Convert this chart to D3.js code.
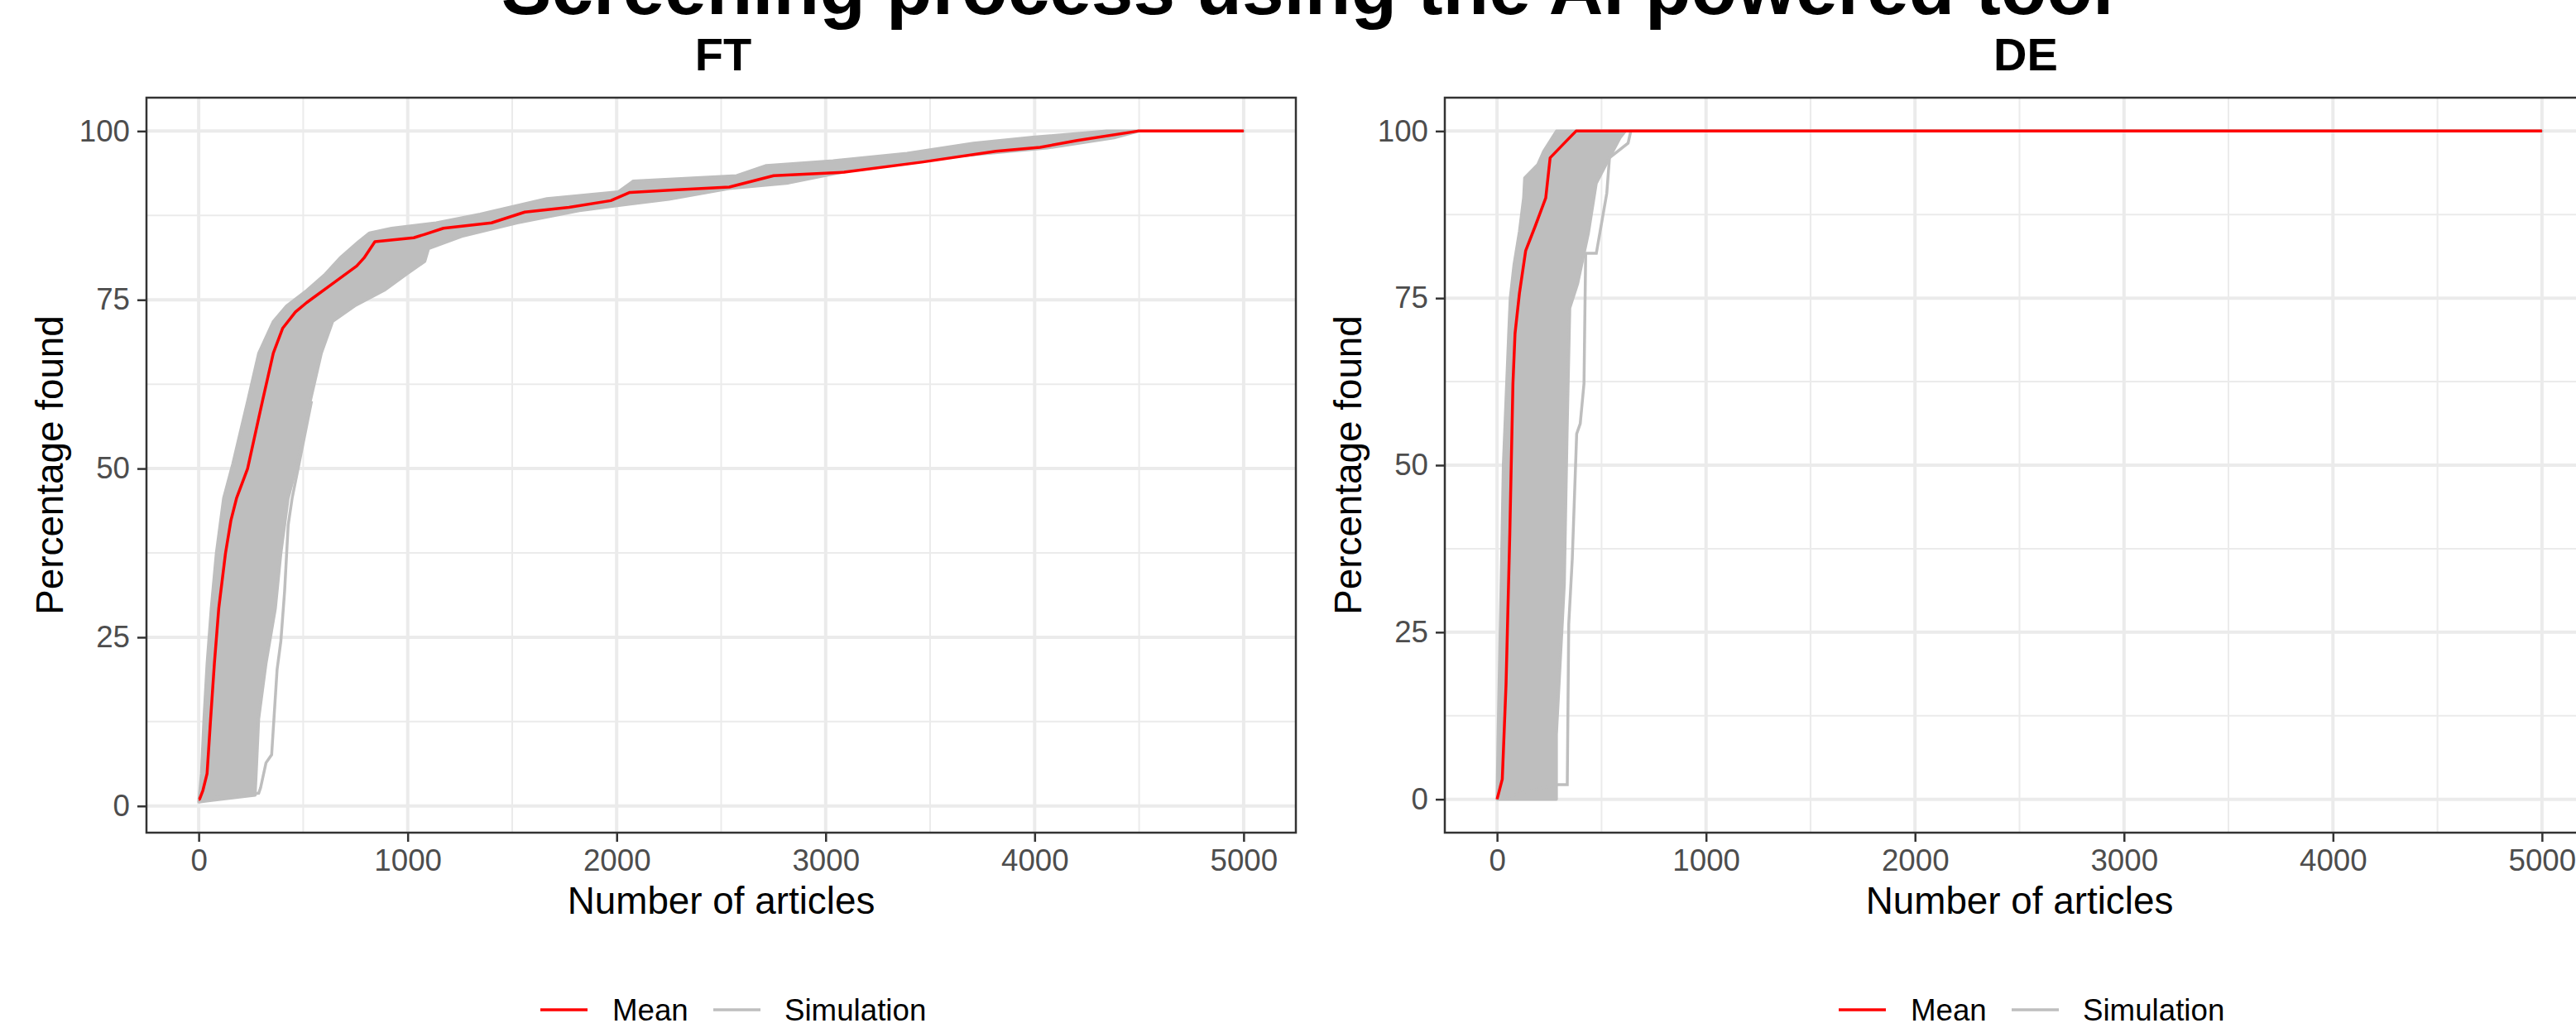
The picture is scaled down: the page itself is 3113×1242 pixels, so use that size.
<!DOCTYPE html>
<html>
<head>
<meta charset="utf-8">
<script src="https://cdn.jsdelivr.net/npm/d3@7"></script>
<style>
  body { margin: 0; background: #fff; }
  text { font-family: "Liberation Sans", Arial, sans-serif; }
</style>
</head>
<body>
<script>

// ---- FT panel: mean curve (articles screened vs percentage found)
var ftMeanX = [0, 4, 20, 40, 57, 75, 96, 128, 154, 181, 234, 305, 357, 402, 463, 517, 641, 756, 791, 843, 1029, 1082, 1171, 1401, 1560, 1772, 1972, 2061, 2291, 2539, 2751, 3088, 3460, 3814, 4026, 4203, 4494, 5000];
var ftMeanY = [1, 1, 2.3, 4.8, 12.9, 21.1, 29.3, 37.4, 42.3, 45.6, 50, 60, 67.1, 70.8, 73.2, 74.6, 77.4, 80, 81.2, 83.6, 84.2, 84.7, 85.6, 86.4, 88, 88.7, 89.7, 90.9, 91.3, 91.7, 93.4, 93.9, 95.4, 97, 97.6, 98.6, 100, 100];

// FT simulations: earliest runs (left edge of the bundle)
var ftSimFastX = [0, 13, 25, 40, 60, 84, 119, 163, 234, 287, 357, 420, 517, 605, 676, 764, 817, 923, 1136, 1347, 1666, 2008, 2079, 2574, 2716, 3035, 3389, 3707, 3991, 4345, 5000];
var ftSimFastY = [0.6, 4.8, 12.9, 21.1, 29.3, 37.4, 45.6, 50.7, 60, 67.1, 71.8, 74.1, 76.4, 78.8, 81.2, 83.6, 84.9, 85.6, 86.4, 87.7, 90, 91, 92.6, 93.4, 94.9, 95.6, 96.7, 98.2, 99.1, 100, 100];
// FT simulations: slowest runs (right edge of the bundle)
var ftSimSlowX = [0, 270, 275, 287, 322, 367, 393, 428, 472, 534, 587, 641, 747, 888, 994, 1082, 1100, 1259, 1524, 1821, 1994, 2250, 2539, 2822, 3176, 3530, 4062, 4380, 4500, 5000];
var ftSimSlowY = [0.6, 1.6, 4.8, 12.9, 21.1, 29.3, 37.4, 45.6, 50.7, 60, 67.1, 71.8, 74.1, 76.4, 78.8, 80.7, 82.6, 84.4, 86.4, 88.2, 88.9, 89.9, 91.5, 92.3, 94.5, 96, 97.5, 99, 100, 100];
// FT: one straggling run
var ftSimLateX = [0, 287, 296, 322, 349, 375, 393, 411, 428, 447, 480, 540];
var ftSimLateY = [1, 1.9, 2.7, 6.4, 7.6, 20.2, 24.4, 31.8, 41.6, 45.6, 50.7, 60];

// ---- DE panel
var deMeanX = [0, 25, 43, 61, 76, 86, 107, 137, 183, 233, 254, 322, 378, 5000];
var deMeanY = [0, 3, 17.2, 39.7, 62.2, 69.7, 75.7, 82.1, 85.8, 90, 96, 98.2, 100, 100];

var deSimFastX = [0, 5, 18, 30, 43, 56, 63, 81, 107, 127, 132, 195, 223, 284, 5000];
var deSimFastY = [0, 10, 30, 50, 60, 70, 75, 80, 85, 90, 93, 95, 97, 100, 100];
var deSimSlowX = [0, 284, 284, 322, 335, 348, 386, 437, 475, 538, 589, 614, 5000];
var deSimSlowY = [0, 0, 9.7, 32.2, 54.7, 73.5, 77.2, 84.7, 92.2, 96, 99, 100, 100];
var deSimLateX = [0, 284, 336, 343, 360, 381, 398, 416, 424, 475, 525, 538, 627, 640, 5000];
var deSimLateY = [0, 2.2, 2.2, 26.2, 36, 54.7, 56.2, 62.2, 81.7, 81.7, 90.7, 96, 98.2, 100, 100];

var xTicks = [0, 1000, 2000, 3000, 4000, 5000];
var yTicks = [0, 25, 50, 75, 100];
var xMinor = [500, 1500, 2500, 3500, 4500];
var yMinor = [12.5, 37.5, 62.5, 87.5];
var legendLabels = ["Mean", "Simulation"];

var chartTitle = "Screening process using the AI powered tool";

function zip(xs, ys) {
  return xs.map(function(v, i) { return {x: v, y: ys[i]}; });
}

var panels = [
  {name: "FT", offset: 0, titleX: 874, mean: zip(ftMeanX, ftMeanY),
   fast: zip(ftSimFastX, ftSimFastY), slow: zip(ftSimSlowX, ftSimSlowY), late: zip(ftSimLateX, ftSimLateY)},
  {name: "DE", offset: 1569, titleX: 2448, mean: zip(deMeanX, deMeanY),
   fast: zip(deSimFastX, deSimFastY), slow: zip(deSimSlowX, deSimSlowY), late: zip(deSimLateX, deSimLateY)}
];

var W = 3113, H = 1242;
var svg = d3.select("body").append("svg")
  .attr("width", W)
  .attr("height", H);

svg.append("rect").attr("width", W).attr("height", H).attr("fill", "#fff");

svg.append("text")
  .attr("x", 1580)
  .attr("y", 17)
  .attr("text-anchor", "middle")
  .attr("font-weight", "bold")
  .attr("font-size", 91)
  .attr("fill", "#000")
  .text(chartTitle);

var RED = "#FF0000", GREY = "#BEBEBE";

function drawPanel(p) {
  var left = 177 + p.offset, right = 1566 + p.offset;
  var top = 118, bottom = 1006;

  // ggplot-like 5% expansion
  var xe = d3.extent(p.mean, function(d) { return d.x; });
  var ye = d3.extent(p.mean, function(d) { return d.y; });
  var xp = (xe[1] - xe[0]) * 0.05, yp = (ye[1] - ye[0]) * 0.05;

  var x = d3.scaleLinear().domain([xe[0] - xp, xe[1] + xp]).range([left, right]);
  var y = d3.scaleLinear().domain([ye[0] - yp, ye[1] + yp]).range([bottom, top]);

  var g = svg.append("g");

  // grid
  g.selectAll(".vminor").data(xMinor).enter().append("line")
    .attr("x1", function(d) { return x(d); }).attr("x2", function(d) { return x(d); })
    .attr("y1", top).attr("y2", bottom)
    .attr("stroke", "#EBEBEB").attr("stroke-width", 2);
  g.selectAll(".hminor").data(yMinor).enter().append("line")
    .attr("y1", function(d) { return y(d); }).attr("y2", function(d) { return y(d); })
    .attr("x1", left).attr("x2", right)
    .attr("stroke", "#EBEBEB").attr("stroke-width", 2);
  g.selectAll(".vmajor").data(xTicks).enter().append("line")
    .attr("x1", function(d) { return x(d); }).attr("x2", function(d) { return x(d); })
    .attr("y1", top).attr("y2", bottom)
    .attr("stroke", "#EBEBEB").attr("stroke-width", 4);
  g.selectAll(".hmajor").data(yTicks).enter().append("line")
    .attr("y1", function(d) { return y(d); }).attr("y2", function(d) { return y(d); })
    .attr("x1", left).attr("x2", right)
    .attr("stroke", "#EBEBEB").attr("stroke-width", 4);

  var line = d3.line()
    .x(function(d) { return x(d.x); })
    .y(function(d) { return y(d.y); });

  // simulation bundle: fastest run up, slowest run back down
  var bundle = p.fast.concat(p.slow.slice().reverse());
  g.append("path")
    .attr("d", line(bundle) + "Z")
    .attr("fill", GREY)
    .attr("stroke", GREY)
    .attr("stroke-width", 3.5)
    .attr("stroke-linejoin", "round");

  g.append("path")
    .datum(p.late)
    .attr("d", line)
    .attr("fill", "none")
    .attr("stroke", GREY)
    .attr("stroke-width", 3.5);

  g.append("path")
    .datum(p.mean)
    .attr("d", line)
    .attr("fill", "none")
    .attr("stroke", RED)
    .attr("stroke-width", 3.5)
    .attr("stroke-linejoin", "round");

  // panel border
  g.append("rect")
    .attr("x", left).attr("y", top)
    .attr("width", right - left).attr("height", bottom - top)
    .attr("fill", "none")
    .attr("stroke", "#333333")
    .attr("stroke-width", 2.5);

  // axes
  var xa = g.append("g")
    .attr("transform", "translate(0," + bottom + ")")
    .call(d3.axisBottom(x).tickValues(xTicks).tickSize(11).tickPadding(9).tickFormat(d3.format("d")));
  var ya = g.append("g")
    .attr("transform", "translate(" + left + ",0)")
    .call(d3.axisLeft(y).tickValues(yTicks).tickSize(11).tickPadding(9).tickFormat(d3.format("d")));
  [xa, ya].forEach(function(a) {
    a.attr("font-family", null).attr("font-size", null);
    a.select(".domain").remove();
    a.selectAll(".tick line").attr("stroke", "#333333").attr("stroke-width", 2.5);
    a.selectAll(".tick text").attr("fill", "#4D4D4D").attr("font-size", 36.7);
  });

  // axis titles
  g.append("text")
    .attr("x", (left + right) / 2)
    .attr("y", 1104)
    .attr("text-anchor", "middle")
    .attr("font-size", 45.8)
    .attr("fill", "#000")
    .text("Number of articles");

  g.append("text")
    .attr("transform", "translate(" + (76 + p.offset) + "," + (top + bottom) / 2 + ") rotate(-90)")
    .attr("text-anchor", "middle")
    .attr("font-size", 45.8)
    .attr("fill", "#000")
    .text("Percentage found");

  // panel title
  g.append("text")
    .attr("x", p.titleX)
    .attr("y", 85)
    .attr("text-anchor", "middle")
    .attr("font-weight", "bold")
    .attr("font-size", 56)
    .attr("fill", "#000")
    .text(p.name);

  // legend
  var lg = g.append("g").attr("transform", "translate(" + p.offset + ",0)");
  var keys = [{c: RED, x0: 653, tx: 740}, {c: GREY, x0: 862, tx: 948}];
  keys.forEach(function(k, i) {
    lg.append("line")
      .attr("x1", k.x0).attr("x2", k.x0 + 57)
      .attr("y1", 1220).attr("y2", 1220)
      .attr("stroke", k.c).attr("stroke-width", 3.7);
    lg.append("text")
      .attr("x", k.tx).attr("y", 1233)
      .attr("font-size", 36.7)
      .attr("fill", "#000")
      .text(legendLabels[i]);
  });
}

panels.forEach(drawPanel);

</script>
</body>
</html>
